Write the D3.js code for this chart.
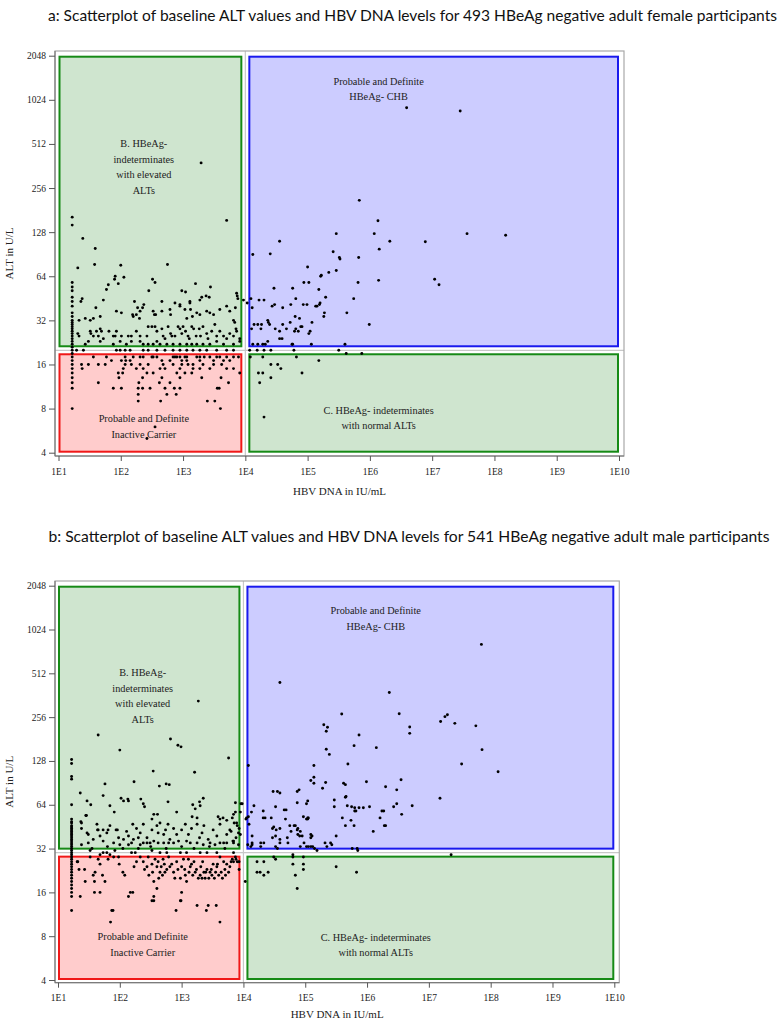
<!DOCTYPE html>
<html><head><meta charset="utf-8">
<script src="https://cdn.jsdelivr.net/npm/d3@7"></script>
<style>body{margin:0;background:#fff}svg{display:block}</style>
</head><body>
<svg id="chart" width="781" height="1020"></svg>
<script>
// ---------------- DATA ----------------
const panelTitles = [
  "a: Scatterplot of baseline ALT values and HBV DNA levels for 493 HBeAg negative adult female participants",
  "b:  Scatterplot of baseline ALT values and HBV DNA levels for 541 HBeAg negative adult male participants"
];
const yTickValues = [4, 8, 16, 32, 64, 128, 256, 512, 1024, 2048];
const xTickExponents = [1, 2, 3, 4, 5, 6, 7, 8, 9, 10];
const dnaThreshold = 1e4;            // IU/mL
const altThresholds = [20, 30];      // female, male (U/L)
const xAxisTitle = "HBV DNA in IU/mL";
const yAxisTitle = "ALT in U/L";
const labelB = ["B. HBeAg-", "indeterminates", "with elevated", "ALTs"];
const labelCHB = ["Probable and Definite", "HBeAg- CHB"];
const labelC = ["C. HBeAg- indeterminates", "with normal ALTs"];
const labelIC = ["Probable and Definite", "Inactive Carrier"];

// [log10 HBV DNA (IU/mL), ALT (U/L)]
const femalePoints = [
[1.22,162],[1.22,143],[1.22,58],[1.22,54],[1.22,51],[1.22,46],[1.22,43],[1.22,40],[1.22,36],[1.22,34],[1.22,32],[1.22,31],[1.22,30],[1.22,29],[1.22,28],[1.22,27],[1.22,26],[1.22,25],[1.22,24],[1.22,23],[1.22,22],[1.22,21],[1.22,20],[1.22,19],[1.22,18],[1.22,17],[1.22,16],[1.22,15],[1.22,14],[1.22,13],[1.22,12],[1.22,11],[1.22,8],
[1.39,116],[1.59,99],[1.58,77],[1.31,73],[2.00,76],[2.75,77],[3.29,380],[3.70,154],
[1.91,64],[1.90,61],[2.05,63],[1.96,57],[1.80,56],[1.77,52],[2.51,61],[2.55,58],[2.45,51],[3.20,57],[3.44,54],[2.98,51],[3.04,50],
[1.38,45],[1.36,43],[1.72,44],[2.22,43],[3.30,46],[3.37,47],[3.42,46],[3.86,49],[3.87,47],[3.88,45],[3.27,44],[2.66,43],[2.87,42],[2.95,41],[3.11,43],[3.11,42],[2.37,41],[2.27,39],[2.31,37],[2.35,39],[2.19,35],[2.20,34],[2.25,35],[2.30,33],[1.93,37],[2.01,36],[1.60,39],[1.51,32],[1.43,33],[1.33,32],[2.52,37],[2.54,35],[2.56,35],[2.66,37],[2.79,38],[2.80,35],[2.95,40],[3.03,38],[3.06,33],[3.12,38],[3.15,34],[3.22,36],[3.27,35],[3.38,37],[3.43,36],[3.49,35],[3.59,38],[3.70,40],[3.75,37],[3.81,32],[1.56,33],[1.67,34],
[3.84,39],[3.83,31],[3.85,28],[3.97,44],
[1.31,26],[1.33,25],[1.51,27],[1.52,26],[1.67,28],[1.69,27],[1.64,25],[1.67,23],[1.72,24],[1.81,27],[1.88,25],[1.91,25],[2.01,25],[2.12,25],[2.17,25],[2.25,27],[2.31,25],[2.42,25],[2.44,29],[2.50,29],[2.55,29],[2.58,27],[2.66,28],[2.68,25],[2.71,24],[2.76,29],[2.80,26],[2.82,25],[2.87,25],[2.92,29],[2.95,28],[2.98,26],[3.00,29],[3.04,27],[3.08,25],[3.10,24],[3.14,29],[3.17,28],[3.21,25],[3.26,28],[3.28,25],[3.32,29],[3.38,26],[3.40,24],[3.46,27],[3.51,30],[3.54,25],[3.59,27],[3.65,25],[3.70,24],[3.75,26],[3.81,25],[3.86,27],[3.91,24],[1.93,27],[1.88,22],[1.99,23],[2.09,22],[2.17,23],[2.31,23],[2.36,22],[2.44,22],[2.52,22],[2.58,23],[2.63,22],[2.74,22],[2.84,22],[2.95,22],[3.06,22],[3.14,22],[3.22,22],[3.32,22],[3.43,22],[3.54,23],[3.65,22],[3.81,22],[3.91,23],[1.43,22],[1.48,23],[1.56,25],[1.61,27],
[1.29,20],[1.40,20],[1.93,20],[1.99,20],[2.07,20],[2.15,20],[2.36,20],[2.44,20],[2.58,20],[2.71,20],[2.84,20],[2.95,20],[3.06,20],[3.16,20],[3.27,20],[3.38,20],[3.54,20],[3.70,20],[3.81,20],
[1.56,18],[1.77,18],[2.07,18],[2.20,18],[2.31,18],[2.36,18],[2.50,18],[2.52,18],[2.58,18],[2.84,18],[2.87,18],[2.90,18],[2.95,18],[3.03,18],[3.06,18],[3.22,18],[3.27,18],[3.34,18],[3.43,18],[3.54,18],[3.59,18],[3.70,18],[3.81,18],[3.89,18],
[1.85,17],[2.01,17],[2.08,17],[2.15,17],[2.66,17],[2.79,17],[2.98,17],[3.06,17],[3.27,17],[3.49,17],[3.65,17],[3.75,17],
[1.37,16],[1.48,16],[1.64,16],[1.75,16],[2.07,16],[2.17,16],[2.31,16],[2.44,16],[2.68,16],[2.84,16],[2.98,16],[3.08,16],[3.16,16],[3.32,16],[3.49,16],[3.62,16],
[1.38,15],[2.04,15],[2.25,15],[2.36,15],[2.63,15],[2.71,15],[2.95,15],[3.16,15],[3.27,15],[3.43,15],[3.70,15],[3.81,15],
[1.96,14],[2.03,14],[2.42,14],[2.52,14],[2.90,14],[3.03,14],[3.14,14],[3.91,14],
[1.97,13],[2.35,13],[2.66,13],[2.95,13],[3.30,13],[3.61,13],
[1.64,12],[2.29,12],[2.62,12],[2.79,12],[3.73,12],
[1.88,11],[2.01,11],[2.28,11],[2.35,11],[2.47,11],[2.71,11],[2.86,11],[2.95,11],[3.55,11],[3.58,11],
[2.28,10],[2.74,10],[2.89,10],[2.28,9],[2.64,9],[3.39,9],[3.51,9],[3.60,8],[2.55,6],[2.42,5],
[6.59,904],[7.45,858],[5.83,211],[6.13,153],[5.46,125],[6.07,125],[7.56,125],[8.18,122],[4.55,111],[6.32,111],[6.89,110],[6.15,98],[4.12,90],[4.40,91],[5.41,94],[5.51,86],[5.52,84],[5.82,86],[5.00,74],[5.46,70],[5.34,68],[5.22,65],[5.21,64],[4.94,58],[5.02,58],[5.81,58],[6.14,60],[7.04,61],[7.11,56],[4.46,53],[4.76,53],[5.18,52],[4.09,45],[4.22,44],[4.30,44],[4.81,45],[5.29,46],[5.74,45],[4.43,40],[4.47,41],[4.60,39],[4.73,41],[4.93,41],[4.99,41],[5.13,40],[5.15,40],[5.19,41],[5.20,42],[4.03,42],[4.11,39],[5.63,36],[4.80,34],[4.87,33],[5.27,36],[5.26,34],[4.36,32],[4.37,31],[4.72,31],[5.07,31],[5.99,30],[4.14,30],[4.20,30],[4.26,30],[4.39,30],[4.60,30],[4.10,28],[4.25,28],[4.48,28],[4.55,27],[4.66,28],[4.79,27],[4.81,28],[4.85,27],[4.89,29],[4.91,29],[5.04,27],[5.02,26],[4.55,24],[4.59,24],[4.36,23],[4.12,22],[4.20,22],[4.28,22],[4.32,22],[4.75,22],[4.76,22],[5.06,22],[5.60,22],
[4.07,20],[4.19,20],[4.30,20],[4.41,20],[4.78,20],[5.50,20],[5.62,19],[5.87,19],
[4.08,18],[4.28,18],[4.82,18],[5.18,17],[4.41,16],[4.52,16],[4.57,15],[4.41,13],[4.21,14],[4.28,14],[4.91,14],[4.23,12],[4.30,7]
];

const malePoints = [
[1.22,131],[1.22,123],[1.22,100],[1.22,96],[1.22,64],[1.22,51],[1.22,49],[1.22,48],[1.22,46],[1.22,45],[1.22,44],[1.22,43],[1.22,42],[1.22,41],[1.22,40],[1.22,39],[1.22,38],[1.22,37],[1.22,36],[1.22,35],[1.22,34],[1.22,33],[1.22,32],[1.22,31],[1.22,30],[1.22,29],[1.22,28],[1.22,27],[1.22,26],[1.22,25],[1.22,24],[1.22,23],[1.22,22],[1.22,21],[1.22,20],[1.22,19],[1.22,18],[1.22,17],[1.22,16],[1.22,15],[1.22,12],
[1.65,193],[2.00,152],[2.82,181],[2.94,164],[2.99,160],[3.27,330],[3.76,134],[2.54,109],[3.21,107],[1.76,89],[2.23,92],
[1.36,77],[1.47,68],[1.53,64],[1.46,54],[1.73,74],[1.84,63],[1.91,57],[2.02,71],[2.06,68],[2.14,68],[2.13,70],[2.64,86],[2.80,88],[2.75,89],[2.34,70],[2.38,65],[2.40,62],[2.52,51],[2.55,55],[2.61,55],[2.78,67],[2.92,57],[3.29,67],[3.35,71],[3.30,63],[3.18,64],[3.22,60],[3.17,53],[3.25,52],[3.59,53],[3.62,51],[3.67,52],[3.73,50],[3.87,66],[3.96,65],[3.95,57],[3.84,55],[1.45,54],[1.38,48],
[1.37,49],[1.38,44],[1.47,41],[1.65,43],[1.84,46],[1.94,43],[2.11,42],[2.14,39],[2.21,47],[2.27,44],[2.33,41],[2.38,47],[2.44,38],[2.52,43],[2.60,46],[2.62,41],[2.65,48],[2.71,40],[2.74,43],[2.78,47],[2.81,37],[2.87,44],[2.92,40],[3.00,43],[3.06,47],[3.08,36],[3.11,40],[3.16,44],[3.25,47],[3.29,38],[3.33,41],[3.36,46],[3.43,37],[3.51,43],[3.57,39],[3.62,47],[3.68,35],[3.73,40],[3.78,43],[3.84,36],[3.89,48],[3.92,41],
[1.90,35],[2.00,34],[2.14,34],[2.19,35],[2.33,34],[2.38,35],[2.44,35],[2.49,35],[2.55,36],[2.62,35],[2.71,35],[2.79,35],[2.87,35],[2.95,36],[3.14,35],[3.25,35],[3.35,34],[3.46,35],[3.54,34],[3.62,35],[3.73,35],[3.84,35],
[1.38,34],[1.49,35],[1.57,37],[1.68,39],[1.73,36],[1.79,41],[1.49,40],[1.63,47],[1.98,38],[2.06,37],[2.22,37],[2.30,38],[1.64,43],[1.73,43],[1.81,43],[1.96,43],
[2.05,32],[2.30,32],[2.50,33],[2.75,32],[3.00,33],[3.20,32],[3.45,33],[3.70,32],[1.55,32],[1.80,33],
[3.87,57],[3.82,52],[3.85,48],[3.90,46],[3.93,44],[3.80,42],[3.95,40],[3.88,38],[3.83,36],[3.92,34],
[1.52,31],[1.68,29],[1.73,30],[1.79,30],[1.84,29],[1.92,31],[2.19,30],[2.25,30],[2.52,31],[2.65,30],[2.76,30],[2.98,30],[3.08,30],[3.30,30],[3.41,30],[3.57,30],[3.84,30],
[1.31,26],[1.34,23],[1.44,19],[1.52,28],[1.57,21],[1.59,19],[1.65,27],[1.68,25],[1.72,21],[1.76,19],[1.81,27],[1.90,28],[1.98,28],[1.99,25],[2.05,22],[2.08,21],[2.14,15],[2.17,16],[2.21,16],[2.23,24],[2.27,26],[2.33,28],[2.38,26],[2.44,24],[2.46,28],[2.52,25],[2.53,22],[2.55,19],[2.60,24],[2.62,26],[2.65,22],[2.69,21],[2.72,25],[2.73,22],[2.79,28],[2.81,24],[2.87,22],[2.92,26],[2.98,20],[3.00,24],[3.06,21],[3.08,19],[3.11,27],[3.16,25],[3.22,22],[3.30,21],[3.33,20],[3.36,22],[3.38,20],[3.41,23],[3.46,22],[3.51,25],[3.57,24],[3.60,21],[3.62,28],[3.68,26],[3.73,25],[3.78,24],[3.84,26],[3.87,28],[3.90,26],[3.93,26],[2.55,15],[2.60,17],[1.68,16],[1.59,16],[1.36,15],[3.00,16],[2.99,14],[2.98,14],[2.52,14],
[2.55,14],[3.25,13],[3.40,12],[3.43,13],[3.62,10],[3.56,13],[1.87,12],[1.85,10],[2.91,12],[3.93,23],[1.32,26],[1.43,23],[1.60,22],[1.89,12],
[2.40,23],[2.47,21],[2.57,27],[2.63,20],[2.67,24],[2.70,27],[2.76,23],[2.84,25],[2.89,20],[2.94,23],[3.03,27],[3.05,23],[3.12,22],[3.14,24],[3.18,21],[3.20,26],[3.24,23],[3.27,20],[3.31,24],[3.34,26],[3.39,22],[3.44,20],[3.48,23],[3.49,21],[3.53,20],[3.55,22],[3.58,25],[3.64,22],[3.66,20],[3.70,23],[3.71,21],[3.76,22],[3.80,26],[3.82,27],[3.88,27],
[7.85,809],[4.59,443],[6.36,378],[5.59,269],[6.52,270],[7.30,266],[7.26,258],[7.19,239],[7.42,232],[7.76,223],[6.69,219],[6.69,198],[5.30,227],[5.36,218],[5.34,205],[5.87,193],[5.79,163],[5.34,154],[6.15,158],[5.39,142],[7.86,153],[5.14,119],[4.08,119],[5.69,122],[7.53,122],[8.12,108],[5.09,94],[5.14,99],[5.14,90],[5.33,91],[5.62,90],[5.65,88],[5.99,92],[6.30,85],[6.48,81],[6.55,95],[5.28,83],[4.48,79],[4.55,79],[4.59,77],[4.87,79],[4.90,81],[7.18,71],[5.47,69],[5.47,62],[5.04,68],[4.87,66],[5.66,73],[5.65,72],[5.68,63],[5.75,62],[5.80,61],[5.82,58],[5.87,61],[5.94,61],[6.04,62],[6.43,62],[6.48,65],[6.73,63],[6.24,58],[6.27,58],[6.56,55],[6.21,52],
[3.98,65],[4.17,63],[4.13,57],[4.05,52],[4.08,53],[4.04,51],[4.32,58],[4.35,52],[4.32,52],[4.52,62],[4.66,59],[4.69,59],[4.45,52],[4.68,51],[5.02,65],[5.04,52],[5.05,52],[4.97,53],[5.02,51],[5.04,51],[5.60,52],[5.80,58],
[4.14,39],[4.14,35],[4.14,34],[4.28,35],[4.33,35],[4.59,44],[4.59,37],[4.59,35],[4.77,42],[4.88,44],[4.92,42],[4.95,39],[4.53,43],[4.47,38],[4.52,39],[5.09,40],[5.11,39],[5.09,38],[4.72,35],[4.71,38],[4.87,43],[4.88,40],[4.91,39],[4.98,35],[5.02,33],[5.05,33],[5.09,33],[5.12,33],[5.19,31],[5.32,35],[5.41,35],[5.43,34],[5.50,39],[5.65,46],[5.79,46],[5.74,50],[4.47,44],[4.49,45],[4.75,46],[4.82,46],[4.84,46],[4.09,47],[6.28,46],[6.30,46],[6.10,42],[5.76,32],[5.84,32],[5.85,31],
[4.07,34],[4.12,33],[4.28,33],[4.52,33],[4.55,32],[4.92,33],[5.15,32],[5.35,33],
[7.36,29],[4.49,28],[4.52,27],[4.80,29],[4.80,28],[4.80,25],[4.97,28],[4.97,25],[4.97,23],[4.22,26],[4.22,22],[4.33,26],[4.33,21],[4.27,22],[4.40,22],[5.50,24],[5.83,22],[4.84,21],[4.87,17],[4.03,19]
];

// ---------------- LAYOUT ----------------
const panels = [
  { title: panelTitles[0], titleX: 48, titleY: 21, titleLen: 729,
    points: femalePoints, thr: altThresholds[0],
    frame: {x0: 55, x1: 624, y0: 51, y1: 456},
    xr: [58.5, 619], yr: [452.7, 55.7],
    xTitleY: 495,
    lab: {bx: 2.37, by: 147, chbx: 6.14, chby: 84.5, cy: 413.5, icy: 422} },
  { title: panelTitles[1], titleX: 48.5, titleY: 542, titleLen: 721,
    points: malePoints, thr: altThresholds[1],
    frame: {x0: 55, x1: 619.3, y0: 581, y1: 982.7},
    xr: [58, 614.3], yr: [980, 585.7],
    xTitleY: 1018,
    lab: {bx: 2.37, by: 676, chbx: 6.14, chby: 614, cy: 940.5, icy: 940} }
];

const svg = d3.select("#chart");
svg.append("rect").attr("width", 781).attr("height", 1020).attr("fill", "#fff");

const serif = "'Liberation Serif','Times New Roman',serif";
const green = {fill: "#cfe5cf", stroke: "#168a16"};
const blue = {fill: "#ccccff", stroke: "#1a1aee"};
const red = {fill: "#ffcccc", stroke: "#f01818"};

panels.forEach(p => {
  const x = d3.scaleLog().domain([1e1, 1e10]).range(p.xr);
  const y = d3.scaleLog().base(2).domain([4, 2048]).range(p.yr);
  const g = svg.append("g");

  // title
  svg.append("text").attr("x", p.titleX).attr("y", p.titleY)
    .attr("font-family", "Lato, 'Open Sans', sans-serif").attr("font-size", 15.2)
    .attr("textLength", p.titleLen).attr("lengthAdjust", "spacingAndGlyphs")
    .attr("fill", "#111").text(p.title);

  const gap = 3;
  const xt = x(dnaThreshold), yt = y(p.thr);
  const boxes = [
    {x0: x(1e1), x1: xt - gap, y0: y(2048), y1: yt - gap, c: green},
    {x0: xt + gap, x1: x(1e10), y0: y(2048), y1: yt - gap, c: blue},
    {x0: x(1e1), x1: xt - gap, y0: yt + gap, y1: y(4), c: red},
    {x0: xt + gap, x1: x(1e10), y0: yt + gap, y1: y(4), c: green}
  ];
  g.selectAll("rect.box").data(boxes).join("rect").attr("class", "box")
    .attr("x", d => d.x0 + 1).attr("y", d => d.y0 + 1)
    .attr("width", d => d.x1 - d.x0 - 2).attr("height", d => d.y1 - d.y0 - 2)
    .attr("fill", d => d.c.fill).attr("stroke", d => d.c.stroke).attr("stroke-width", 2);

  // reference lines
  g.append("line").attr("x1", xt).attr("x2", xt).attr("y1", p.frame.y0).attr("y2", p.frame.y1)
    .attr("stroke", "#c8c8c8").attr("stroke-width", 1.2);
  g.append("line").attr("x1", p.frame.x0).attr("x2", p.frame.x1).attr("y1", yt).attr("y2", yt)
    .attr("stroke", "#c8c8c8").attr("stroke-width", 1.2);

  // region labels
  const lab = (lines, cx, by) => {
    const t = g.append("text").attr("font-family", serif).attr("font-size", 10.3)
      .attr("fill", "#222").attr("text-anchor", "middle");
    lines.forEach((s, i) => t.append("tspan").attr("x", cx).attr("y", by + i * 15.5).text(s));
  };
  lab(labelB, x(Math.pow(10, p.lab.bx)), p.lab.by);
  lab(labelCHB, x(Math.pow(10, p.lab.chbx)), p.lab.chby);
  lab(labelC, x(Math.pow(10, p.lab.chbx)), p.lab.cy);
  lab(labelIC, x(Math.pow(10, p.lab.bx)), p.lab.icy);

  // points
  g.selectAll("circle").data(p.points).join("circle")
    .attr("cx", d => x(Math.pow(10, d[0]))).attr("cy", d => y(d[1]))
    .attr("r", 1.45).attr("fill", "#000");

  // frame
  g.append("rect").attr("x", p.frame.x0).attr("y", p.frame.y0)
    .attr("width", p.frame.x1 - p.frame.x0).attr("height", p.frame.y1 - p.frame.y0)
    .attr("fill", "none").attr("stroke", "#a8a8a8").attr("stroke-width", 1.2);

  // axes
  const ya = d3.axisLeft(y).tickValues(yTickValues).tickFormat(d3.format("d")).tickSize(6).tickPadding(3);
  const yg = g.append("g").attr("transform", `translate(${p.frame.x0},0)`).call(ya);
  const xa = d3.axisBottom(x).tickValues(xTickExponents.map(e => Math.pow(10, e)))
    .tickFormat(d => "1E" + Math.round(Math.log10(d))).tickSize(5).tickPadding(7);
  const xg = g.append("g").attr("transform", `translate(0,${p.frame.y1})`).call(xa);
  [yg, xg].forEach(a => {
    a.select(".domain").attr("stroke", "#707070");
    a.selectAll(".tick line").attr("stroke", "#555");
    a.selectAll("text").attr("font-family", serif).attr("font-size", 9.5).attr("fill", "#222");
  });
  xg.select(".domain").attr("d", `M${p.frame.x0},0H${p.frame.x1}`);
  yg.select(".domain").attr("d", `M0,${p.frame.y0}V${p.frame.y1}`);

  // axis titles
  g.append("text").attr("x", (p.frame.x0 + p.frame.x1) / 2).attr("y", p.xTitleY)
    .attr("text-anchor", "middle").attr("font-family", serif).attr("font-size", 11)
    .attr("fill", "#222").text(xAxisTitle);
  g.append("text").attr("transform", `translate(13,${(p.frame.y0 + p.frame.y1) / 2}) rotate(-90)`)
    .attr("text-anchor", "middle").attr("font-family", serif).attr("font-size", 11)
    .attr("fill", "#222").text(yAxisTitle);
});
</script>
</body></html>
